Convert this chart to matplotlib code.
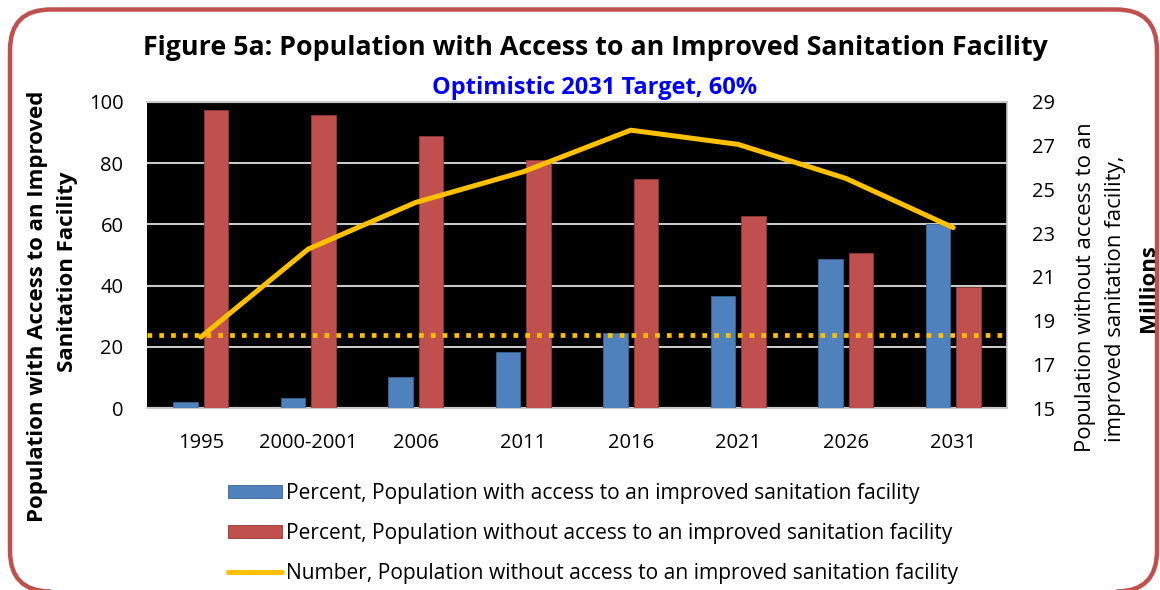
import matplotlib
matplotlib.use("Agg")
import matplotlib.pyplot as plt
import numpy as np
from matplotlib.patches import FancyBboxPatch

plt.rcParams['font.family'] = ['Open Sans', 'DejaVu Sans']

categories = ["1995", "2000-2001", "2006", "2011", "2016", "2021", "2026", "2031"]
pct_with = [2.2, 3.5, 10.3, 18.5, 24.7, 36.6, 48.7, 60.0]
pct_without = [97.2, 95.6, 88.8, 80.9, 74.7, 62.7, 50.5, 39.7]
num_without = [18.25, 22.27, 24.4, 25.8, 27.7, 27.05, 25.5, 23.25]
reference_level = 24.0

left_ticks = [0, 20, 40, 60, 80, 100]
right_ticks = [15, 17, 19, 21, 23, 25, 27, 29]

BLUE = "#4F81BD"
RED = "#C0504D"
GOLD = "#FFC000"

fig = plt.figure(figsize=(11.6, 5.9), dpi=100)
W, H = 1160, 590

# rounded border
border = FancyBboxPatch((10 / W, -1.5 / H), 1147 / W, 582 / H,
                        boxstyle="round,pad=0,rounding_size=0.035",
                        transform=fig.transFigure, fill=False,
                        edgecolor=RED, linewidth=3.2, mutation_aspect=W / H,
                        zorder=10)
fig.patches.append(border)

ax = fig.add_axes([147 / W, 1 - 408.3 / H, 860 / W, 306.6 / H])
ax.set_facecolor("black")
x = np.arange(len(categories))
bw = 0.225
off = 0.142
b1 = ax.bar(x - off, pct_with, bw, color=BLUE, edgecolor="#3A6591", linewidth=0.6,
            label="Percent, Population with access to an improved sanitation facility", zorder=3)
b2 = ax.bar(x + off, pct_without, bw, color=RED, edgecolor="#8E3B39", linewidth=0.6,
            label="Percent, Population without access to an improved sanitation facility", zorder=3)
ax.axhline(reference_level, color=GOLD, linewidth=3.4, linestyle=(0, (1, 1.5)),
           dash_capstyle="butt", zorder=5)
ax.set_xlim(-0.5, len(categories) - 0.5)
ax.set_ylim(0, 100)
ax.set_yticks(left_ticks)
ax.set_xticks(x)
ax.set_xticklabels(categories)
ax.tick_params(axis="both", length=0, labelsize=14.5)
ax.tick_params(axis="y", pad=17)
ax.tick_params(axis="x", pad=17.5)
ax.yaxis.grid(True, color="#C8C8C8", linewidth=1.5, zorder=1)
ax.set_axisbelow(True)
for s in ["left", "right"]:
    ax.spines[s].set_visible(False)
for s in ["top", "bottom"]:
    ax.spines[s].set_color("#C8C8C8")
    ax.spines[s].set_linewidth(1.5)

ax2 = ax.twinx()
ln, = ax2.plot(x, num_without, color=GOLD, linewidth=3.6, solid_capstyle="round",
               label="Number, Population without access to an improved sanitation facility", zorder=6)
ax2.set_ylim(15, 29)
ax2.set_yticks(right_ticks)
ax2.tick_params(axis="y", length=0, labelsize=14.5, pad=18)
for s in ax2.spines.values():
    s.set_visible(False)
ax2.spines["right"].set_visible(True)
ax2.spines["right"].set_color("#C8C8C8")
ax2.spines["right"].set_linewidth(1.2)

# titles
fig.text(595 / W, 1 - 48 / H, "Figure 5a: Population with Access to an Improved Sanitation Facility",
         ha="center", va="center", fontsize=19.3, fontweight="bold", color="black")
fig.text(595 / W, 1 - 88 / H, "Optimistic 2031 Target, 60%",
         ha="center", va="center", fontsize=17, fontweight="bold", color="#0000FF")

# left axis labels
fig.text(38 / W, 1 - 306 / H, "Population with Access to an Improved",
         rotation=90, ha="center", va="center", fontsize=16, fontweight="bold")
fig.text(68 / W, 1 - 272 / H, "Sanitation Facility",
         rotation=90, ha="center", va="center", fontsize=16, fontweight="bold")

# right axis labels
fig.text(1085 / W, 1 - 287 / H, "Population without access to an",
         rotation=90, ha="center", va="center", fontsize=16)
fig.text(1115 / W, 1 - 299 / H, "improved sanitation facility,",
         rotation=90, ha="center", va="center", fontsize=16)
fig.text(1148 / W, 1 - 288 / H, "Millions",
         rotation=90, ha="center", va="center", fontsize=16, fontweight="bold")

fig.legend(handles=[b1, b2, ln], loc="upper left",
           bbox_to_anchor=(228 / W, 1 - 483 / H), bbox_transform=fig.transFigure,
           frameon=False, fontsize=15.1, handlelength=2.57, handleheight=0.62,
           handletextpad=0.2, labelspacing=0.9, borderpad=0, borderaxespad=0)

fig.savefig("out.png", dpi=100, facecolor="white")
